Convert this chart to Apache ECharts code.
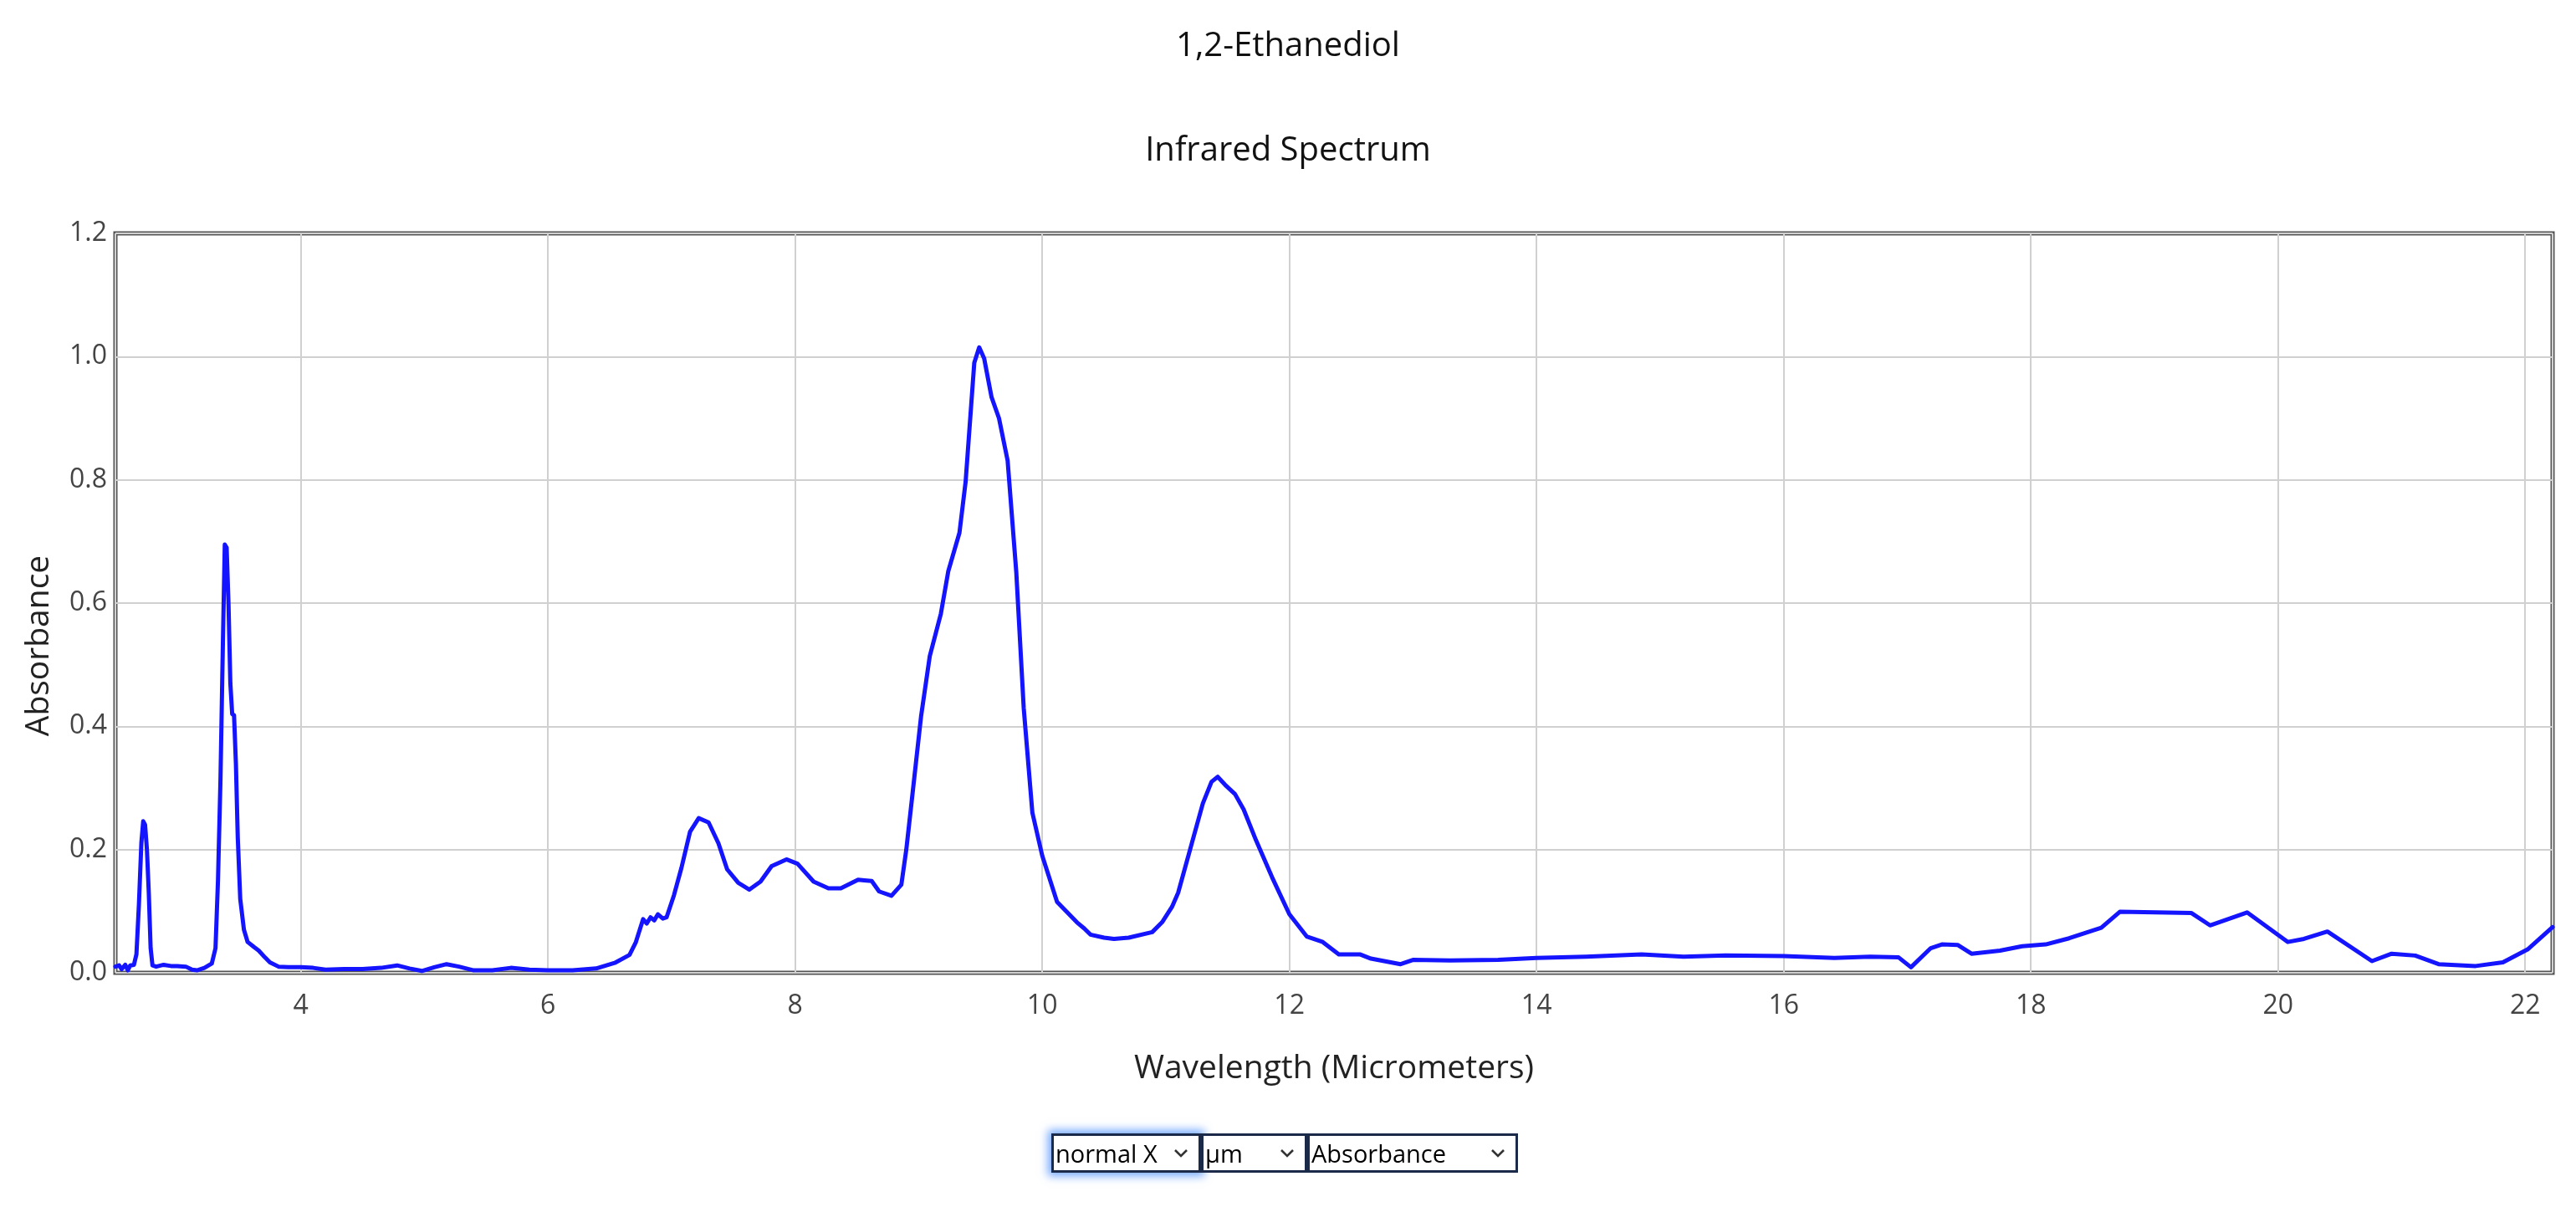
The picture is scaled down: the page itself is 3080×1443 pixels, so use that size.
<!DOCTYPE html>
<html>
<head>
<meta charset="utf-8">
<script src="https://cdn.jsdelivr.net/npm/echarts@6/dist/echarts.min.js"></script>
<style>
html,body{margin:0;padding:0;background:#fff;width:3080px;height:1443px;overflow:hidden;}
#chart{position:absolute;left:0;top:0;width:3080px;height:1443px;}
#controls{position:absolute;left:1257px;top:1355px;display:flex;}
#controls select{
  -webkit-appearance:none;appearance:none;
  font-family:'Open Sans',sans-serif;font-size:29px;height:47px;
  border:3px solid #1b2a48;background-color:#fff;color:#000;margin:0;padding:0 2px;border-radius:0;box-sizing:border-box;
  background-image:url("data:image/svg+xml;utf8,<svg xmlns='http://www.w3.org/2000/svg' width='18' height='11' viewBox='0 0 18 11'><path d='M2 2 L9 9 L16 2' stroke='%23333' stroke-width='2.6' fill='none'/></svg>");
  background-repeat:no-repeat;background-position:right 12px center;background-size:18px 11px;
}
</style>
</head>
<body>
<div id="chart"></div>
<div id="controls">
<select style="width:179px;box-shadow:0 0 10px 4px rgba(70,140,255,0.75);"><option>normal X</option><option>reverse X</option></select>
<select style="width:127px;"><option>µm</option><option>1/cm</option></select>
<select style="width:252px;"><option>Absorbance</option><option>Transmittance</option></select>
</div>
<script>
const chartTitle = '1,2-Ethanediol';
const chartSubtitle = 'Infrared Spectrum';
const xAxisName = 'Wavelength (Micrometers)';
const yAxisName = 'Absorbance';

const wavelength = [
  2.50,2.53,2.55,2.58,2.60,2.62,2.65,2.67,2.69,2.71,2.725,2.74,2.755,2.77,2.785,2.80,2.83,2.89,2.95,3.00,
  3.07,3.12,3.16,3.22,3.28,3.31,3.33,3.35,3.37,3.385,3.40,3.415,3.43,3.445,3.46,3.475,3.49,3.51,3.54,3.57,
  3.62,3.66,3.71,3.75,3.82,3.90,4.00,4.10,4.20,4.35,4.50,4.65,4.78,4.88,4.98,5.08,5.18,5.28,5.40,5.55,
  5.70,5.85,6.00,6.20,6.39,6.54,6.66,6.71,6.77,6.80,6.83,6.86,6.89,6.93,6.96,7.02,7.08,7.15,7.22,7.30,
  7.38,7.45,7.54,7.63,7.72,7.81,7.93,8.02,8.15,8.27,8.37,8.51,8.56,8.62,8.68,8.78,8.86,8.90,8.95,9.02,
  9.09,9.18,9.24,9.33,9.38,9.45,9.49,9.53,9.59,9.65,9.72,9.79,9.85,9.92,10.00,10.12,10.28,10.34,10.39,10.50,
  10.58,10.70,10.89,10.97,11.05,11.10,11.21,11.30,11.37,11.42,11.48,11.56,11.63,11.73,11.86,12.00,12.14,12.27,12.40,12.57,12.66,
  12.90,13.00,13.30,13.69,14.00,14.40,14.85,15.19,15.53,16.00,16.41,16.70,16.93,17.03,17.19,17.28,17.41,17.52,17.75,17.93,
  18.12,18.31,18.57,18.72,19.30,19.45,19.75,20.08,20.21,20.40,20.76,20.92,21.11,21.30,21.60,21.82,22.02,22.222
];
const absorbance = [
  0.010,0.012,0.006,0.013,0.004,0.012,0.013,0.030,0.110,0.211,0.246,0.240,0.200,0.130,0.040,0.012,0.010,0.013,0.011,0.011,
  0.010,0.005,0.004,0.008,0.015,0.040,0.150,0.312,0.538,0.695,0.690,0.600,0.470,0.420,0.418,0.340,0.220,0.120,0.070,0.050,
  0.042,0.036,0.025,0.017,0.010,0.009,0.009,0.008,0.005,0.006,0.006,0.008,0.012,0.007,0.003,0.009,0.014,0.010,0.004,0.004,
  0.008,0.005,0.004,0.004,0.007,0.016,0.029,0.049,0.087,0.080,0.090,0.085,0.095,0.088,0.090,0.126,0.170,0.229,0.251,0.244,
  0.210,0.168,0.146,0.135,0.148,0.173,0.184,0.177,0.148,0.137,0.137,0.151,0.150,0.149,0.132,0.125,0.143,0.200,0.290,0.417,
  0.514,0.583,0.652,0.714,0.797,0.990,1.015,0.997,0.934,0.900,0.831,0.650,0.430,0.260,0.190,0.115,0.082,0.072,0.062,0.057,
  0.055,0.057,0.066,0.082,0.107,0.130,0.210,0.275,0.310,0.318,0.305,0.290,0.265,0.215,0.155,0.095,0.059,0.050,0.030,0.030,0.023,
  0.014,0.021,0.020,0.021,0.024,0.026,0.030,0.026,0.028,0.027,0.024,0.026,0.025,0.009,0.040,0.046,0.045,0.031,0.036,0.043,
  0.046,0.056,0.073,0.099,0.097,0.077,0.098,0.050,0.055,0.067,0.019,0.031,0.028,0.014,0.011,0.017,0.038,0.074
];
const xMin = 2.5, xMax = 22.222;
const yMin = 0, yMax = 1.2, yStep = 0.2;

const seriesData = wavelength.map((w, i) => [w, absorbance[i]]);
const FONT = "'Open Sans', sans-serif";

const chart = echarts.init(document.getElementById('chart'), null, {renderer: 'canvas'});
chart.setOption({
  animation: false,
  backgroundColor: '#ffffff',
  title: [
    {text: chartTitle, left: 'center', top: 31, textStyle: {fontFamily: FONT, fontSize: 40, fontWeight: 'normal', color: '#111'}},
    {text: chartSubtitle, left: 'center', top: 156, textStyle: {fontFamily: FONT, fontSize: 40, fontWeight: 'normal', color: '#111'}}
  ],
  graphic: [{
    type: 'text', x: 47, y: 772, rotation: Math.PI / 2, z: 10,
    style: {text: yAxisName, fontFamily: FONT, fontSize: 39, fill: '#222', align: 'center', verticalAlign: 'middle'}
  }],
  grid: {left: 138, right: 28, top: 279, bottom: 280, show: true, borderColor: '#555', borderWidth: 5, backgroundColor: 'transparent', containLabel: false},
  xAxis: {
    type: 'value', min: xMin, max: xMax, splitNumber: 10,
    name: xAxisName, nameLocation: 'middle', nameGap: 95,
    nameTextStyle: {fontFamily: FONT, fontSize: 39, color: '#222'},
    axisLine: {show: false}, axisTick: {show: false},
    axisLabel: {fontFamily: FONT, fontSize: 32, color: '#444', margin: 24, showMinLabel: false, showMaxLabel: false},
    splitLine: {show: true, lineStyle: {color: '#d0d0d0', width: 2}}
  },
  yAxis: {
    type: 'value', min: yMin, max: yMax, interval: yStep,
    axisLine: {show: false}, axisTick: {show: false},
    axisLabel: {fontFamily: FONT, fontSize: 32, color: '#444', margin: 10, formatter: v => v.toFixed(1)},
    splitLine: {show: true, lineStyle: {color: '#d0d0d0', width: 2}}
  },
  series: [{
    type: 'line', data: seriesData, showSymbol: false, symbol: 'none',
    lineStyle: {color: '#1414ff', width: 5, join: 'round', cap: 'round'}, smooth: false, clip: true, z: 3
  }]
});
</script>
</body>
</html>
